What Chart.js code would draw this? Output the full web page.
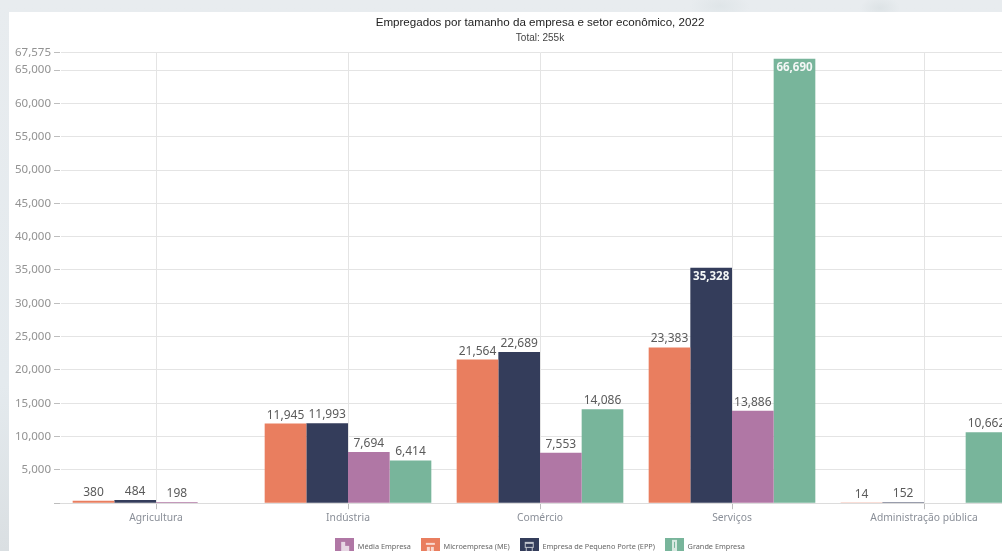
<!DOCTYPE html>
<html lang="pt"><head><meta charset="utf-8">
<style>
html,body{margin:0;padding:0;width:1002px;height:551px;overflow:hidden;background:#e8edf0}
#bg{position:absolute;left:0;top:0;width:1002px;height:551px;background:radial-gradient(ellipse 30px 14px at 720px 6px,#dfe5e8,transparent),radial-gradient(ellipse 20px 12px at 880px 8px,#dde3e6,transparent),linear-gradient(180deg,#e8ecef 0%,#e4eaee 70%,#dadfe2 100%)}
#card{position:absolute;left:9px;top:12px;width:993px;height:539px;background:#fff}
#wrap{position:absolute;left:0;top:0;width:1002px;height:551px;overflow:hidden}
canvas{display:block}
</style>
<script src="https://cdn.jsdelivr.net/npm/chart.js@4"></script>
</head><body>
<div id="bg"></div><div id="card"></div>
<div id="wrap"><div style="width:1080px;height:561px;position:relative"><canvas id="c" width="1080" height="561"></canvas></div></div>
<script>
const categories=["Agricultura","Indústria","Comércio","Serviços","Administração pública"];
const micro=[380,11945,21564,23383,14];
const epp=[484,11993,22689,35328,152];
const media=[198,7694,7553,13886,null];
const grande=[null,6414,14086,66690,10662];
const axisMax=67575;
const yTicks=[0,5000,10000,15000,20000,25000,30000,35000,40000,45000,50000,55000,60000,65000,67575];
const seriesNames=["Microempresa (ME)","Empresa de Pequeno Porte (EPP)","Média Empresa","Grande Empresa"];
const seriesColors=["#e97e5f","#343d5b","#b077a5","#78b59b"];
const legendOrder=[2,0,1,3];
const insideLabels=[35328,66690];
const fontName='"Noto Sans"';

function icon(color,kind){
  const s=document.createElement('canvas');s.width=19;s.height=19;
  const g=s.getContext('2d');g.fillStyle=color;g.fillRect(0,0,19,19);
  g.fillStyle='rgba(255,255,255,.7)';
  if(kind===0){g.fillRect(6,4,4,11);g.fillRect(10,8,4,7);}
  if(kind===1){g.fillRect(5,5,9,2);g.fillRect(6,9,3,6);g.fillRect(10,9,3,6);}
  if(kind===2){g.fillRect(5,4,9,2);g.fillRect(5,6,1,3);g.fillRect(13,6,1,3);g.fillRect(5,9,9,1);g.fillRect(6,10,1,5);g.fillRect(12,10,1,5);}
  if(kind===3){g.fillRect(7,2,5,15);g.fillStyle=color;g.fillRect(9,4,1,6);}
  return s;
}
const icons=seriesColors.map((c,i)=>icon(c,[1,2,0,3][i]));

const valueLabels={id:'valueLabels',afterDatasetsDraw(ch){
  const g=ch.ctx;g.save();g.textAlign='center';g.textBaseline='alphabetic';
  ch.data.datasets.forEach((d,i)=>{
    const m=ch.getDatasetMeta(i);
    m.data.forEach((el,j)=>{
      const v=d.data[j];if(v==null)return;
      const inside=insideLabels.includes(v);
      g.font=(inside?'bold 11.5px ':'12px ')+fontName;
      g.fillStyle=inside?'#f4f7f6':'#5a5a5a';
      g.fillText(v.toLocaleString('en-US'),el.x,inside?el.y+12:el.y-5);
    });
  });
  g.restore();
}};

new Chart(document.getElementById('c'),{
  type:'bar',
  data:{labels:categories,datasets:seriesNames.map((n,i)=>({
    label:n,data:[micro,epp,media,grande][i],backgroundColor:seriesColors[i],yAxisID:'y',
    categoryPercentage:0.868,barPercentage:1,borderWidth:0}))},
  options:{
    responsive:false,animation:false,
    plugins:{
      title:{display:true,text:"Empregados por tamanho da empresa e setor econômico, 2022",color:'#222',
        font:{family:'"Liberation Sans"',size:11.6,weight:'normal'},padding:{top:16,bottom:2}},
      subtitle:{display:true,text:"Total: 255k",color:'#444',
        font:{family:'"Liberation Sans"',size:10,weight:'normal'},padding:{top:0,bottom:9}},
      legend:{position:'bottom',
        onClick:null,
        labels:{usePointStyle:true,pointStyleWidth:19,
          generateLabels(ch){return legendOrder.map(i=>({text:seriesNames[i],pointStyle:icons[i],fillStyle:seriesColors[i],strokeStyle:seriesColors[i],lineWidth:0,datasetIndex:i,fontColor:'#666'}));},
          font:{family:fontName,size:7.3},color:'#666',padding:10,boxWidth:19,boxHeight:14}
      },
      tooltip:{enabled:false}
    },
    scales:{
      x:{afterFit(ax){ax.height=30.5;},grid:{offset:false,color:'#e4e4e4',tickColor:'#bdbdbd',lineWidth:1,tickLength:6},border:{color:'#dcdcdc'},
        ticks:{color:'#8a8f98',font:{family:fontName,size:10.3},padding:3,maxRotation:0}},
      y:{min:0,max:axisMax,afterFit(ax){ax.width=60;},
        afterBuildTicks(ax){ax.ticks=yTicks.map(v=>({value:v}));},
        grid:{color:'#e4e4e4',tickColor:'#bdbdbd',lineWidth:1,tickLength:6},border:{color:'rgba(0,0,0,0)'},
        ticks:{color:'#929292',font:{family:fontName,size:11.5},padding:3,
          callback:v=>v===0?'':v.toLocaleString('en-US')}},
      margin:{type:'linear',position:'right',afterFit(ax){ax.width=60;},
        grid:{display:false},border:{display:false},ticks:{display:false}}
    }
  },
  plugins:[valueLabels]
});
</script></body></html>
